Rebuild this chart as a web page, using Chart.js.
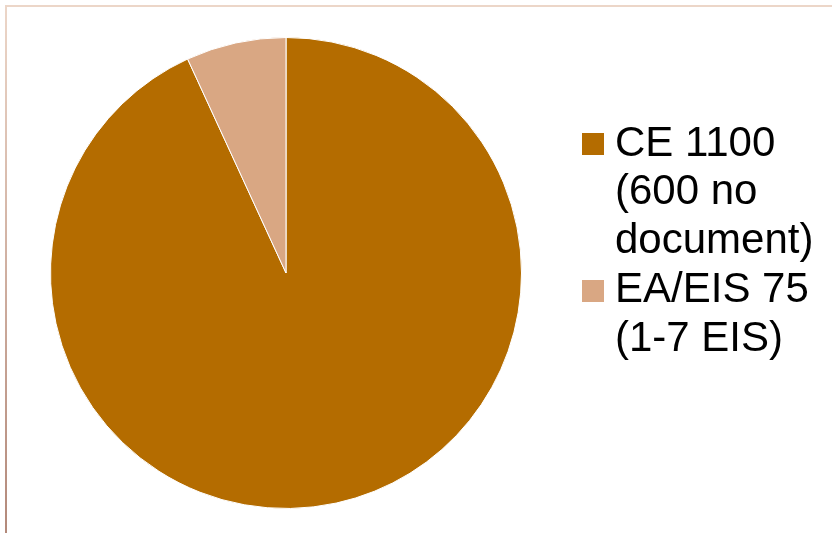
<!DOCTYPE html>
<html lang="en">
<head>
    <meta charset="UTF-8">
    <title>CE vs EA/EIS</title>
    <style>
        body {
            margin: 0;
            background: #fff;
            overflow: hidden;
        }
        #wrap {
            position: relative;
            width: 832px;
            height: 533px;
            overflow: hidden;
        }
        #frameTop {
            position: absolute;
            left: 5px; top: 5px; right: 0;
            height: 2px;
            background: #ecd6c8;
        }
        #frameLeft {
            position: absolute;
            left: 5px; top: 5px; bottom: 0;
            width: 2px;
            background: linear-gradient(#ecd6c8, #b3897a);
        }
        /* canvas is a little wider and shifted left so the pie lands where it should */
        #pieChart {
            position: absolute;
            left: -9px; top: 0;
        }
    </style>
</head>
<body>
    <div id="wrap">
        <div id="frameTop"></div>
        <div id="frameLeft"></div>
        <canvas id="pieChart" width="841" height="533"></canvas>
    </div>

    <script src="https://cdn.jsdelivr.net/npm/chart.js@4/dist/chart.umd.min.js"></script>
    <script>

    // legend labels, one array per item so they wrap like the original
    const categories = [
        ["CE 1100", "(600 no", "document)"],
        ["EA/EIS 75", "(1-7 EIS)"]
    ];
    // slice sizes as drawn (small slice measures about 25 degrees)
    const values = [1100, 81];
    const sliceColors = ["#b46c00", "#d9a783"];

    // legend swatch: 22px square on the right of a 32px wide image,
    // chart.js centres the image on the point, this keeps the text gap tight
    function makeSwatch(color) {
        const c = document.createElement("canvas");
        c.width = 32;
        c.height = 22;
        const g = c.getContext("2d");
        g.fillStyle = color;
        g.fillRect(10, 0, 22, 22);
        return c;
    }
    const swatches = sliceColors.map(makeSwatch);

    const ctx = document.getElementById("pieChart").getContext("2d");

    const chart = new Chart(ctx, {
        type: "pie",
        data: {
            labels: categories,
            datasets: [{
                data: values,
                backgroundColor: sliceColors,
                borderColor: "#ffffff",
                borderWidth: 1
            }]
        },
        options: {
            responsive: false,
            animation: false,
            layout: {
                padding: {left: 0, right: 11, top: 37, bottom: 24}
            },
            plugins: {
                tooltip: {enabled: false},
                legend: {
                    position: "right",
                    align: "start",
                    maxWidth: 240,
                    // empty title only used as a spacer above the items
                    title: {
                        display: true,
                        text: "",
                        padding: 0,
                        font: {size: 85, lineHeight: 1}
                    },
                    labels: {
                        usePointStyle: true,
                        pointStyleWidth: 12,
                        boxHeight: 22,
                        padding: 1,
                        color: "#000",
                        font: {
                            family: "'Liberation Sans', Arial, sans-serif",
                            size: 42,
                            lineHeight: 1.155
                        },
                        generateLabels: (chart) => categories.map((text, i) => ({
                            text: text,
                            fillStyle: sliceColors[i],
                            strokeStyle: sliceColors[i],
                            fontColor: "#000000",
                            lineWidth: 0,
                            pointStyle: swatches[i],
                            hidden: false,
                            index: i
                        }))
                    }
                }
            }
        }
    });

    </script>
</body>
</html>
